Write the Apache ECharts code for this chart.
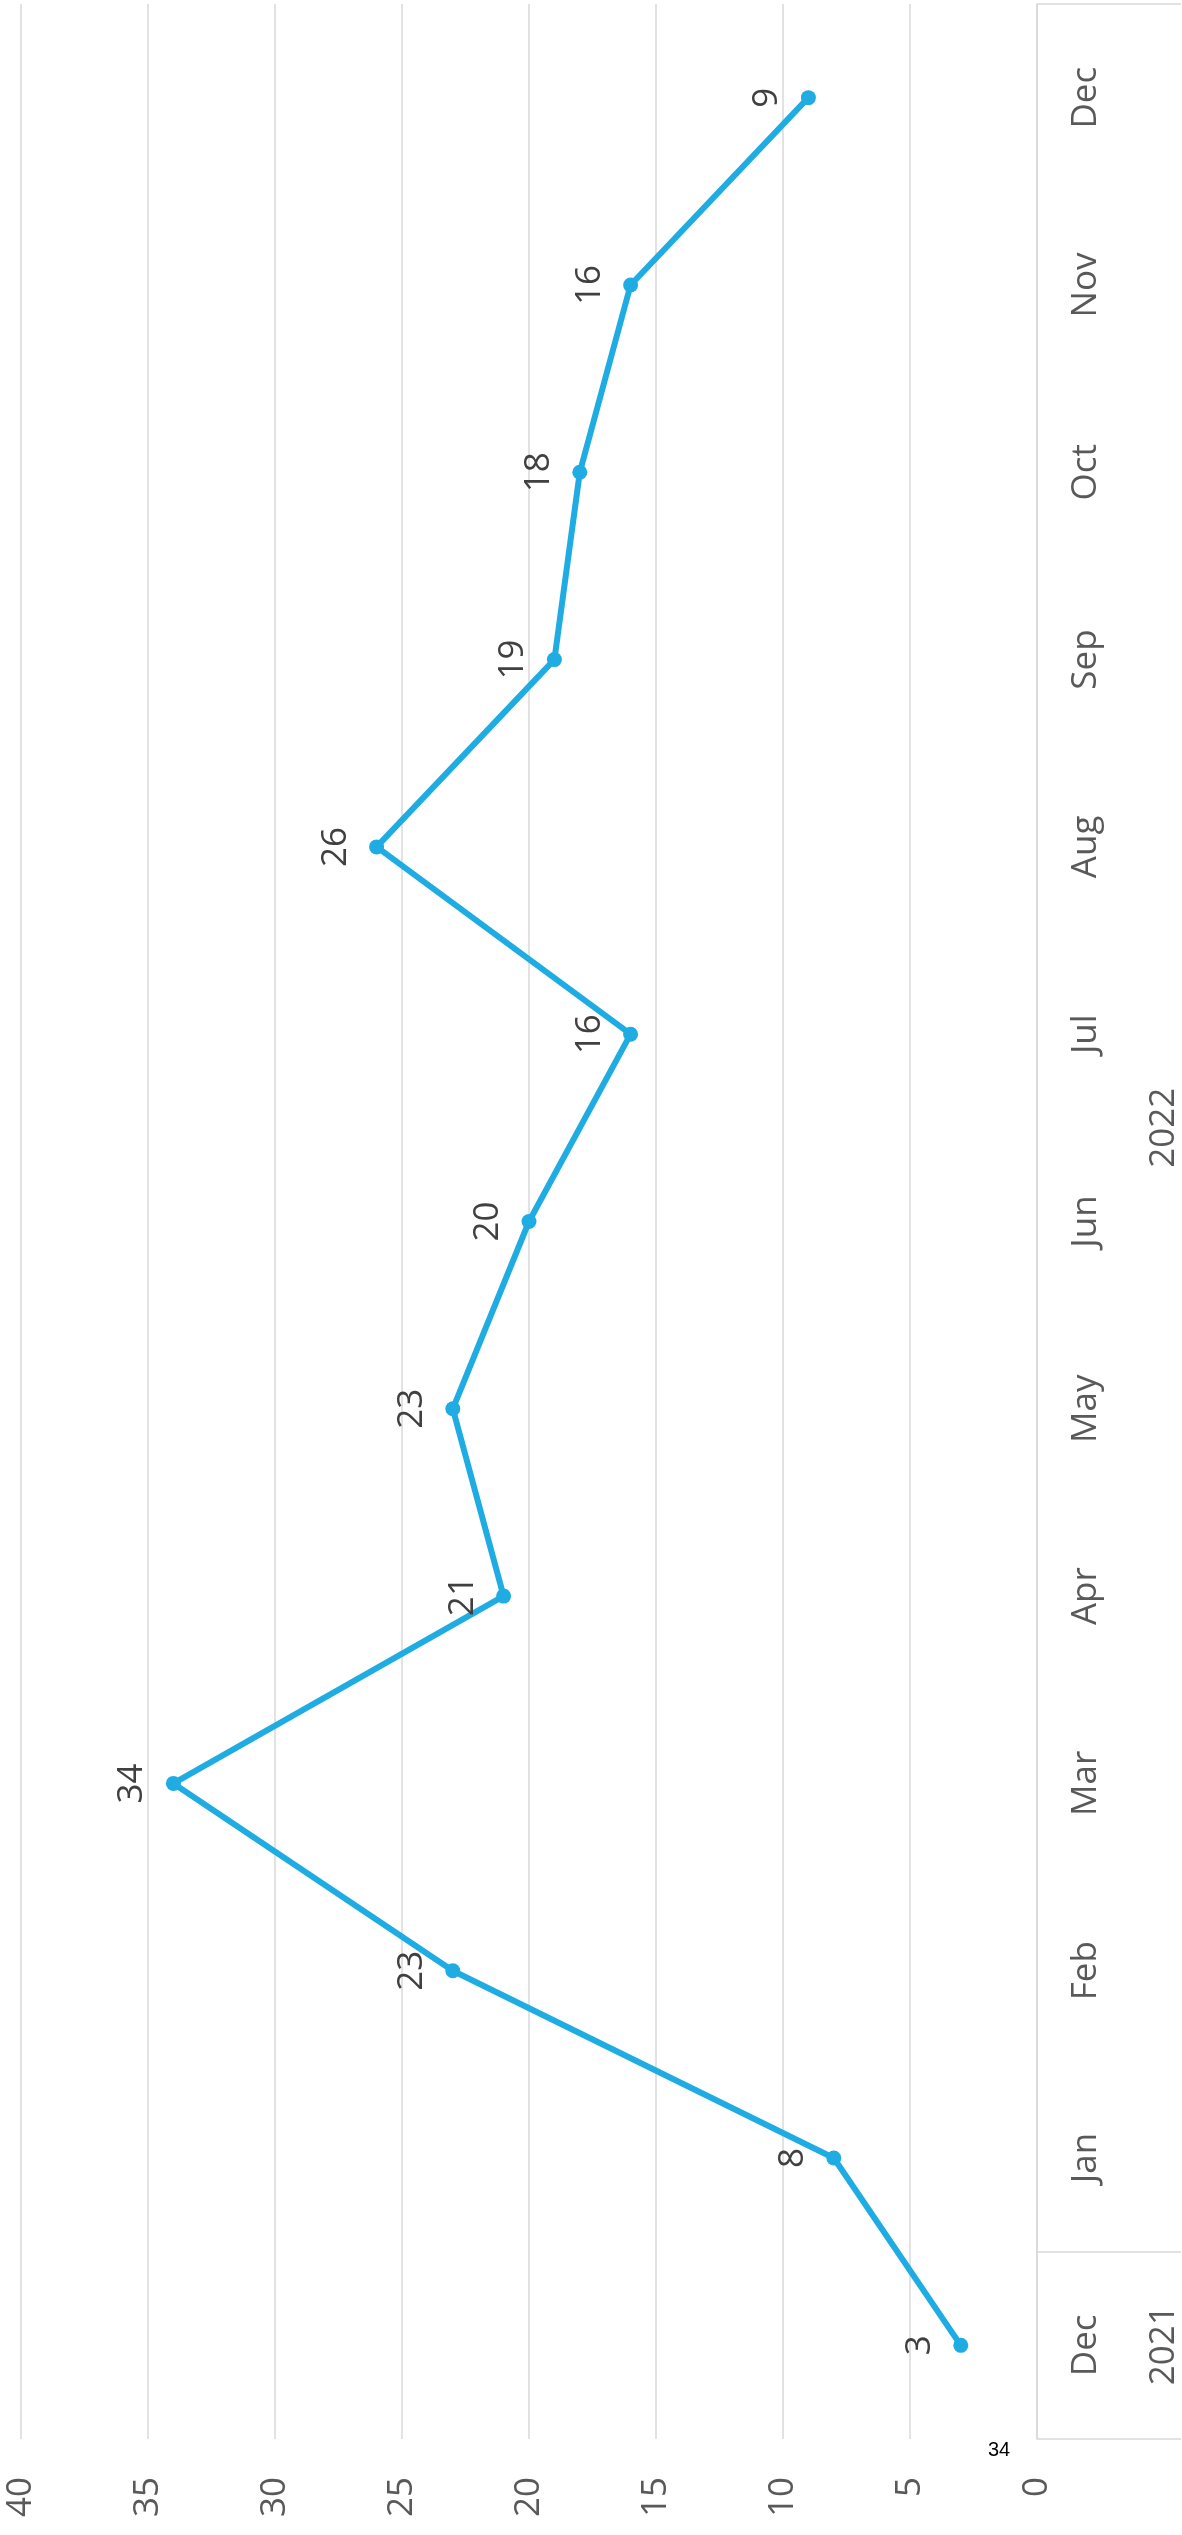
<!DOCTYPE html>
<html>
<head>
<meta charset="utf-8">
<title>chart</title>
<script src="https://cdn.jsdelivr.net/npm/echarts@6/dist/echarts.min.js"></script>
<style>
  html, body { margin: 0; padding: 0; background: #fff; }
  #chart { width: 1182px; height: 2535px; }
</style>
</head>
<body>
<div id="chart"></div>
<script>
// months (first one is Dec 2021, the rest are 2022)
var months = ['Dec', 'Jan', 'Feb', 'Mar', 'Apr', 'May', 'Jun', 'Jul', 'Aug', 'Sep', 'Oct', 'Nov', 'Dec']
var counts = [3, 8, 23, 34, 21, 23, 20, 16, 26, 19, 18, 16, 9]
var years = ['2021', '2022']
// how many months fall in each year
var yearMonths = [1, 12]
var valueTicks = [0, 5, 10, 15, 20, 25, 30, 35, 40]

// year label sits in the middle of its month span
var yearPos = {}
var start = 0
years.forEach(function (y, i) {
  yearPos[(start + yearMonths[i] / 2).toFixed(1)] = y
  start += yearMonths[i]
})

var font = 'Open Sans'
var fontSize = 35
var gridColor = '#d9d9d9'
var lineColor = '#1facE3'

var chart = echarts.init(document.getElementById('chart'))
chart.setOption({
  animation: false,
  grid: {
    left: 21,
    right: 144,
    top: 4,
    bottom: 96
  },
  xAxis: {
    type: 'value',
    inverse: true,
    position: 'bottom',
    min: valueTicks[0],
    max: valueTicks[valueTicks.length - 1],
    interval: valueTicks[1] - valueTicks[0],
    axisLine: { show: false },
    axisTick: { show: false },
    splitLine: { lineStyle: { color: gridColor, width: 1.5 } },
    axisLabel: {
      rotate: 90,
      margin: 38,
      color: '#595959',
      fontSize: fontSize,
      fontFamily: font
    }
  },
  yAxis: [
    {
      type: 'category',
      position: 'right',
      data: months,
      axisLine: { lineStyle: { color: gridColor, width: 1.5 } },
      // only the year boundaries get a line across the label box
      axisTick: {
        show: true,
        length: 144,
        interval: function (i) {
          return i === 0 || i === yearMonths[0]
        },
        lineStyle: { color: gridColor, width: 1.5 }
      },
      axisLabel: {
        rotate: 90,
        margin: 32,
        color: '#595959',
        fontSize: fontSize,
        fontFamily: font
      },
      splitLine: { show: false }
    },
    {
      type: 'value',
      position: 'right',
      min: 0,
      max: months.length,
      interval: 0.5,
      axisLine: { show: false },
      axisTick: { show: false },
      splitLine: { show: false },
      axisLabel: {
        rotate: 90,
        margin: 110,
        color: '#595959',
        fontSize: fontSize,
        fontFamily: font,
        formatter: function (v) {
          return yearPos[v.toFixed(1)] || ''
        }
      }
    }
  ],
  series: [
    {
      type: 'line',
      yAxisIndex: 0,
      data: counts,
      symbol: 'circle',
      symbolSize: 15,
      lineStyle: { color: lineColor, width: 6 },
      itemStyle: { color: lineColor, borderWidth: 0 },
      label: {
        show: true,
        position: 'inside',
        rotate: 90,
        align: 'center',
        verticalAlign: 'middle',
        offset: [0, -41],
        color: '#404040',
        fontSize: fontSize,
        fontFamily: font
      }
    }
  ],
  graphic: [
    {
      type: 'text',
      x: 988,
      y: 2440,
      style: {
        text: '34',
        fontSize: 20,
        fontFamily: 'Liberation Sans',
        fill: '#000'
      }
    }
  ]
})
</script>
</body>
</html>
